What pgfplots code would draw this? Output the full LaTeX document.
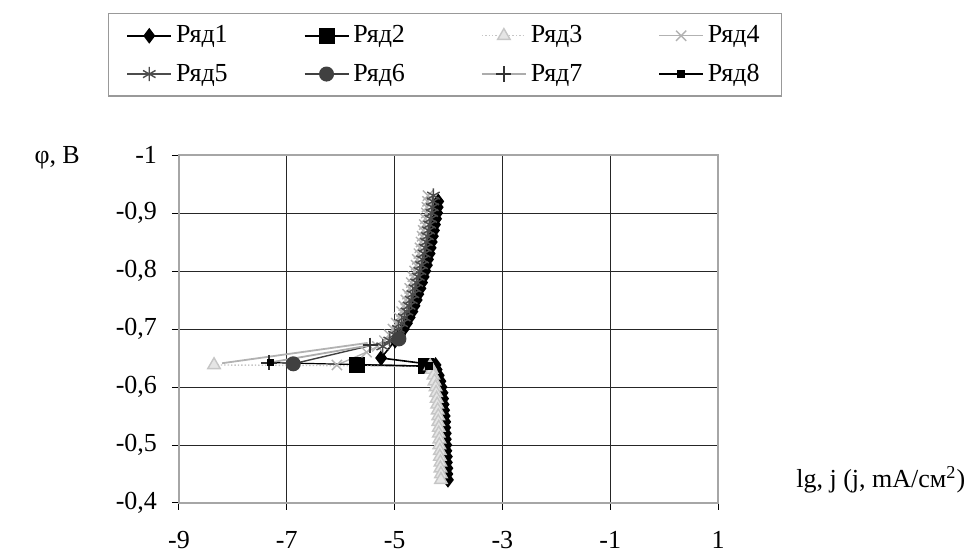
\documentclass[border=0pt]{standalone}
\usepackage{pgfplots}
\pgfplotsset{compat=1.18}
\usepackage{fontspec}
\setmainfont{Liberation Serif}

\begin{document}
\begin{tikzpicture}[font=\fontsize{13}{15}\selectfont]
\useasboundingbox (-89.5pt,-24pt) rectangle (396pt,251.5pt);
\begin{axis}[
  at={(0,0)}, anchor=south west,
  scale only axis, width=269.5pt, height=174pt,
  xmin=-9, xmax=1, ymin=-1, ymax=-0.4, y dir=reverse,
  xtick={-9,-7,-5,-3,-1,1},
  xticklabels={-9,-7,-5,-3,-1,1},
  ytick={-1,-0.9,-0.8,-0.7,-0.6,-0.5,-0.4},
  yticklabels={-1,{-0,9},{-0,8},{-0,7},{-0,6},{-0,5},{-0,4}},
  tick pos=left, tick align=outside, major tick length=3.5pt,
  tick style={black, line width=0.5pt},
  xticklabel style={yshift=-7pt},
  yticklabel style={xshift=-4pt},
  grid=major, grid style={black!85, line width=0.45pt},
  axis line style={gray!70, line width=1.1pt},
  xlabel={lg, j (j, mA/см\textsuperscript{2})},
  xlabel style={at={(rel axis cs:1.302,0.066)}, anchor=center},
  ylabel={φ, В},
  ylabel style={rotate=-90, at={(rel axis cs:-0.226,0.991)}, anchor=center},
  legend columns=4,
  legend cell align=left,
  legend style={at={(0.4935,1.1667)}, anchor=south, draw=gray!80, line width=0.8pt,
    inner xsep=9pt, inner ysep=4pt, row sep=5pt,
    /tikz/every even column/.append style={column sep=36pt}},
  legend image code/.code={\draw[mark repeat=2,mark phase=2,#1] plot coordinates {(0pt,0pt) (11pt,0pt) (22pt,0pt)};},
  clip=false,
]
% Ryad 1: cathodic branch + anodic branch
\addplot[black, line width=0.8pt, mark=diamond*, mark size=3.3pt] coordinates {
  (-4.19,-0.92) (-4.20,-0.91) (-4.21,-0.90) (-4.23,-0.89) (-4.25,-0.88)
  (-4.27,-0.87) (-4.29,-0.86) (-4.31,-0.85) (-4.33,-0.84) (-4.35,-0.83)
  (-4.38,-0.82) (-4.40,-0.81) (-4.43,-0.80) (-4.46,-0.79) (-4.49,-0.78)
  (-4.52,-0.77) (-4.56,-0.76) (-4.59,-0.75) (-4.63,-0.74) (-4.67,-0.73)
  (-4.72,-0.72) (-4.77,-0.71) (-4.83,-0.70) (-4.90,-0.69) (-4.99,-0.68)
  (-5.25,-0.650) (-4.24,-0.638)
  (-4.22,-0.63) (-4.18,-0.62) (-4.15,-0.61) (-4.13,-0.60)
  (-4.11,-0.59) (-4.10,-0.58) (-4.09,-0.57) (-4.08,-0.56) (-4.07,-0.55)
  (-4.06,-0.54) (-4.06,-0.53) (-4.05,-0.52) (-4.05,-0.51) (-4.04,-0.50)
  (-4.04,-0.49) (-4.03,-0.48) (-4.03,-0.47) (-4.02,-0.46) (-4.02,-0.45)
  (-4.01,-0.44)
};
\addlegendentry{Ряд1}
% Ryad 2
\addplot[black, line width=0.8pt, mark=square*, mark size=3.6pt] coordinates {
  (-5.70,-0.638) (-4.42,-0.636)
};
\addlegendentry{Ряд2}
% Ryad 3
\addplot[gray!45, densely dotted, line width=0.7pt, mark=triangle*,
  mark size=3.6pt, mark options={solid, fill=gray!20, draw=gray!45}] coordinates {
  (-8.35,-0.638) (-4.34,-0.636) (-4.31,-0.63) (-4.28,-0.62) (-4.26,-0.61)
  (-4.24,-0.60) (-4.23,-0.59) (-4.22,-0.58) (-4.21,-0.57) (-4.20,-0.56)
  (-4.19,-0.55) (-4.19,-0.54) (-4.18,-0.53) (-4.18,-0.52) (-4.17,-0.51)
  (-4.17,-0.50) (-4.16,-0.49) (-4.16,-0.48) (-4.15,-0.47) (-4.15,-0.46)
  (-4.14,-0.45) (-4.14,-0.44)
};
\addlegendentry{Ряд3}
% Ryad 4
\addplot[gray!60, line width=0.7pt, mark=x, mark size=3.6pt] coordinates {
  (-4.38,-0.93) (-4.39,-0.92) (-4.40,-0.91) (-4.41,-0.90) (-4.43,-0.89)
  (-4.45,-0.88) (-4.47,-0.87) (-4.49,-0.86) (-4.51,-0.85) (-4.53,-0.84)
  (-4.55,-0.83) (-4.58,-0.82) (-4.60,-0.81) (-4.63,-0.80) (-4.66,-0.79)
  (-4.69,-0.78) (-4.72,-0.77) (-4.76,-0.76) (-4.79,-0.75) (-4.83,-0.74)
  (-4.87,-0.73) (-4.92,-0.72) (-4.97,-0.71) (-5.03,-0.70) (-5.10,-0.69)
  (-5.19,-0.68) (-5.32,-0.67) (-5.52,-0.66) (-6.07,-0.638)
};
\addlegendentry{Ряд4}
% Ryad 5
\addplot[black!70, line width=0.7pt, mark=asterisk, mark size=3.6pt] coordinates {
  (-4.28,-0.93) (-4.29,-0.92) (-4.30,-0.91) (-4.31,-0.90) (-4.33,-0.89)
  (-4.35,-0.88) (-4.37,-0.87) (-4.39,-0.86) (-4.41,-0.85) (-4.43,-0.84)
  (-4.45,-0.83) (-4.48,-0.82) (-4.50,-0.81) (-4.53,-0.80) (-4.56,-0.79)
  (-4.59,-0.78) (-4.62,-0.77) (-4.66,-0.76) (-4.69,-0.75) (-4.73,-0.74)
  (-4.77,-0.73) (-4.82,-0.72) (-4.87,-0.71) (-4.93,-0.70) (-5.00,-0.69)
  (-5.09,-0.68) (-5.22,-0.67)
};
\addlegendentry{Ряд5}
% Ryad 6
\addplot[black!75, line width=0.7pt, mark=*, mark size=3.4pt] coordinates {
  (-6.88,-0.640) (-4.92,-0.683)
};
\addlegendentry{Ряд6}
% Ryad 7
\addplot[gray!65, line width=0.9pt, mark=+, mark size=3.8pt, mark options={black!80}] coordinates {
  (-7.33,-0.642) (-5.45,-0.672)
};
\addlegendentry{Ряд7}
% Ryad 8
\addplot[black, line width=0.6pt, mark=square*, mark size=1.6pt] coordinates {
  (-7.30,-0.642) (-4.36,-0.636)
};
\addlegendentry{Ряд8}
% grey rising line (end of Ryad 4 measurement)
\addplot[gray!60, line width=0.9pt, forget plot] coordinates {
  (-8.20,-0.641) (-5.50,-0.676)
};
\end{axis}
\end{tikzpicture}
\end{document}
